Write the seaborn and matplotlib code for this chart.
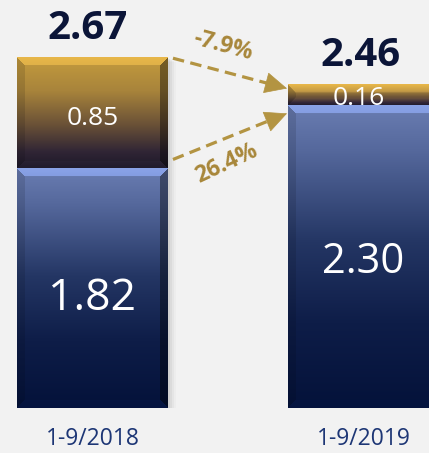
import numpy as np
import pandas as pd
import matplotlib
matplotlib.use("Agg")
import matplotlib.pyplot as plt
import matplotlib.colors as mcolors
import seaborn as sns

# ---- data ----
periods = ["1-9/2018", "1-9/2019"]
base_values = [1.82, 2.30]     # blue segment
top_values = [0.85, 0.16]      # gold segment
totals = [2.67, 2.46]

BG = "#f2f2f2"
NAVY_TEXT = "#0b1538"
GOLD = "#b39442"
GOLD_TEXT = "#a8873a"
TICK_BLUE = "#1d3675"

sns.set_theme(style="white")
plt.rcParams["font.family"] = ["Open Sans", "DejaVu Sans"]

W, H, DPI = 429, 453, 100
fig = plt.figure(figsize=(W / DPI, H / DPI), dpi=DPI, facecolor=BG)
ax = fig.add_axes([0, 45 / H, 1, 408 / H])
ax.set_facecolor(BG)

df = pd.DataFrame({"period": periods, "total": totals, "base": base_values})
bar_w = 0.557
sns.barplot(data=df, x="period", y="total", color="#b8913c", width=bar_w,
            saturation=1, ax=ax, linewidth=0)
sns.barplot(data=df, x="period", y="base", color="#3a4d82", width=bar_w,
            saturation=1, ax=ax, linewidth=0)

ax.set_xlim(-0.3413, 1.2417)
ax.set_ylim(0, 408 / 131.5)
ax.set_xlabel("")
ax.set_ylabel("")
ax.set_yticks([])
for s in ax.spines.values():
    s.set_visible(False)
ax.tick_params(axis="x", length=0, pad=14, labelsize=16.5, labelcolor=TICK_BLUE)

fig.canvas.draw()

def px_per_unit():
    p0 = ax.transData.transform((0, 0))
    p1 = ax.transData.transform((1, 1))
    return abs(p1[0] - p0[0]), abs(p1[1] - p0[1])

pxx, pxy = px_per_unit()

def gradient_img(stops, nrows, ncols, bevel=8, tb=1.18, lb=0.88, rb=0.6, bb=1.1):
    pos = np.array([s[0] for s in stops])
    cols = np.array([mcolors.to_rgb(s[1]) for s in stops])
    t = np.linspace(0, 1, nrows)
    col = np.stack([np.interp(t, pos, cols[:, k]) for k in range(3)], axis=1)
    img = np.repeat(col[:, None, :], ncols, axis=1)
    i = np.arange(nrows)[:, None] * np.ones((1, ncols))
    j = np.ones((nrows, 1)) * np.arange(ncols)[None, :]
    dt, db = i, nrows - 1 - i
    dl, dr = j, ncols - 1 - j
    d = np.stack([dt, db, dl, dr])
    face = np.argmin(d, axis=0)
    inb = d.min(axis=0) < bevel
    amounts = [tb, bb, lb, rb]
    out = img.copy()
    for f, a in enumerate(amounts):
        m = inb & (face == f)
        out[m] = out[m] * a
    return np.clip(out, 0, 1)

blue_stops = [(0, "#6a7db2"), (0.15, "#55689c"), (0.45, "#243664"),
              (0.72, "#0e1d48"), (1, "#04123a")]
gold_stops = [(0, "#c49b3e"), (0.3, "#a8843b"), (0.6, "#6b5237"),
              (0.85, "#302535"), (1, "#1c1828")]

n = len(periods)
gold_patches = ax.patches[:n]
blue_patches = ax.patches[n:]
for gp, bp in zip(gold_patches, blue_patches):
    x0, w = gp.get_x(), gp.get_width()
    base = bp.get_height()
    total = gp.get_height()
    # soft shadow
    for k, a in enumerate([0.05, 0.04, 0.03, 0.02]):
        ax.add_patch(plt.Rectangle((x0 + (2 + 2 * k) / pxx, (-2 - k) / pxy), w, total,
                                   facecolor="#000000", alpha=a, lw=0, zorder=1))
    gp.set_zorder(2)
    bp.set_zorder(2)
    # gold segment
    nr = max(int(round((total - base) * pxy)), 4)
    nc = int(round(w * pxx))
    img = gradient_img(gold_stops, nr, nc, bevel=min(8, nr // 3 + 1))
    ax.imshow(img, extent=(x0, x0 + w, base, total), aspect="auto",
              interpolation="bilinear", zorder=3, origin="upper")
    # blue segment
    nr = int(round(base * pxy))
    img = gradient_img(blue_stops, nr, nc, tb=1.3)
    ax.imshow(img, extent=(x0, x0 + w, 0, base), aspect="auto",
              interpolation="bilinear", zorder=3, origin="upper")

ax.set_xlim(-0.3413, 1.2417)
ax.set_ylim(0, 408 / 131.5)

# value labels
for idx in range(n):
    gp = gold_patches[idx]
    xc = gp.get_x() + gp.get_width() / 2
    ax.text(xc - 5 / pxx if idx == 0 else xc - 3 / pxx, totals[idx] + 0.07,
            f"{totals[idx]:.2f}", ha="center", va="bottom",
            fontsize=29, fontweight="bold", color=NAVY_TEXT, zorder=5)
    ax.text(xc, base_values[idx] / 2 - (5 / pxy if idx == 0 else 0),
            f"{base_values[idx]:.2f}", ha="center", va="center_baseline",
            fontsize=32 if idx == 0 else 30, color="white", zorder=5)
    ax.text(xc - (0 if idx == 0 else 5 / pxx),
            base_values[idx] + top_values[idx] / 2 - (3 / pxy if idx == 0 else 0),
            f"{top_values[idx]:.2f}", ha="center", va="center_baseline",
            fontsize=19, color="white", zorder=5)

# arrows: dashed shaft + solid head
r0 = gold_patches[0].get_x() + gold_patches[0].get_width() + 5 / pxx
l1 = gold_patches[1].get_x() - 1 / pxx

def dashed_arrow(x_start, y_start, x_end, y_end):
    p0 = ax.transData.transform((x_start, y_start))
    p1 = ax.transData.transform((x_end, y_end))
    v = p1 - p0
    L = np.hypot(*v)
    u = v / L
    head_len = 15
    shaft_end = p1 - u * head_len
    inv = ax.transData.inverted()
    se = inv.transform(shaft_end)
    hs = inv.transform(p1 - u * (head_len + 1))
    ax.plot([x_start, se[0]], [y_start, se[1]], color=GOLD, lw=2.3,
            ls=(0, (3.6, 2.0)), solid_capstyle="butt", dash_capstyle="butt", zorder=6)
    ax.annotate("", xy=(x_end, y_end), xytext=(hs[0], hs[1]),
                arrowprops=dict(arrowstyle="-|>,head_length=0.75,head_width=0.36",
                                color=GOLD, lw=0.5, shrinkA=0, shrinkB=0,
                                mutation_scale=20), zorder=6)

dashed_arrow(r0, totals[0] - 0.01, l1, totals[1] - 0.03)
dashed_arrow(r0, base_values[0] + 0.07, l1, base_values[1] - 0.06)

chg_total = (totals[1] - totals[0]) / totals[0] * 100
chg_base = (base_values[1] - base_values[0]) / base_values[0] * 100
mid = (r0 + l1) / 2
ax.text(mid - 7 / pxx, (408 - 46) / 131.5, f"{chg_total:.1f}%", ha="center", va="center",
        rotation=-15, fontsize=16.5, fontweight="bold", color=GOLD_TEXT, zorder=6)
ax.text(mid - 3 / pxx, (408 - 164) / 131.5, f"{chg_base:.1f}%", ha="center", va="center",
        rotation=25, fontsize=16.5, fontweight="bold", color=GOLD_TEXT, zorder=6)

fig.savefig("out.png", dpi=DPI, facecolor=BG)
